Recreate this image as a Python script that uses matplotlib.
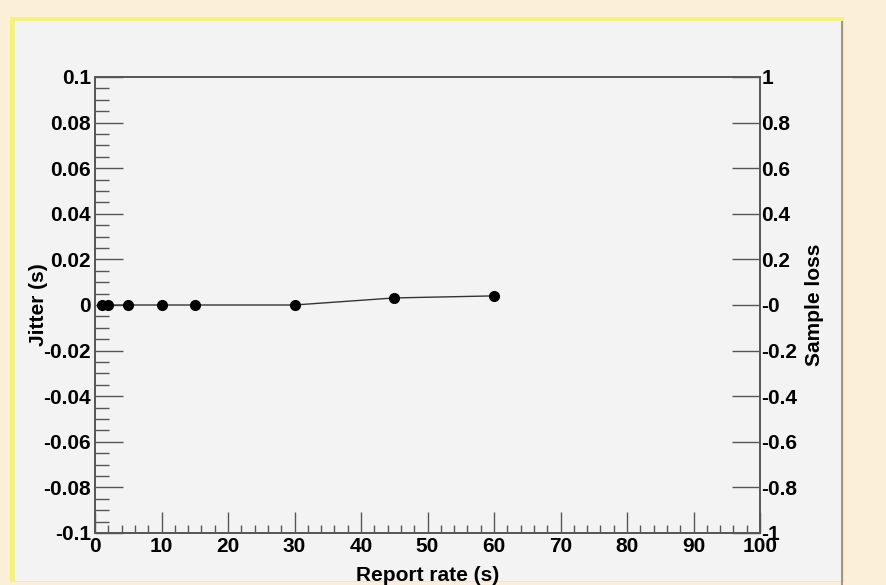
import numpy as np
import matplotlib.pyplot as plt
from matplotlib.patches import Rectangle
from matplotlib.ticker import MultipleLocator, FixedLocator, FixedFormatter

# data
report_rate = [1, 2, 5, 10, 15, 30, 45, 60]
jitter = [0.0, 0.0, 0.0, 0.0, 0.0, 0.0, 0.0031, 0.0040]

left_ticks = [-0.1, -0.08, -0.06, -0.04, -0.02, 0, 0.02, 0.04, 0.06, 0.08, 0.1]
left_labels = ['-0.1', '-0.08', '-0.06', '-0.04', '-0.02', '0',
               '0.02', '0.04', '0.06', '0.08', '0.1']
right_ticks = [-1, -0.8, -0.6, -0.4, -0.2, 0, 0.2, 0.4, 0.6, 0.8, 1]
right_labels = ['-1', '-0.8', '-0.6', '-0.4', '-0.2', '-0',
                '0.2', '0.4', '0.6', '0.8', '1']
x_ticks = [0, 10, 20, 30, 40, 50, 60, 70, 80, 90, 100]

plt.rcParams['font.family'] = ['Liberation Sans', 'DejaVu Sans']
plt.rcParams['font.weight'] = 'bold'

W, H = 886, 585
fs = 15
fig = plt.figure(figsize=(W / 100, H / 100), dpi=100)
fig.patch.set_facecolor('#fcefda')

# ROOT style canvas pad: gray panel with yellow edges
for (x0, y0, w, h, c) in [(10, 17, 834, 565, '#f5f17e'),
                          (15, 21, 826, 560, '#f3f3f3'),
                          (841, 21, 2, 564, '#9a9a7a')]:
    fig.add_artist(Rectangle((x0 / W, 1 - (y0 + h) / H), w / W, h / H,
                             transform=fig.transFigure, facecolor=c,
                             edgecolor='none', zorder=-5))

ax = fig.add_axes([95 / W, 1 - 533 / H, 665 / W, 456 / H])
ax.set_facecolor('#f3f3f3')
ax.plot(report_rate, jitter, color='#333333', lw=1.0, marker='o',
        ms=7, mfc='black', mec='black', zorder=3)

ax.set_xlim(0, 100)
ax.set_ylim(-0.1, 0.1)
for s in ax.spines.values():
    s.set_color('#555555')
    s.set_linewidth(1.2)

ax.xaxis.set_major_locator(FixedLocator(x_ticks))
ax.xaxis.set_minor_locator(MultipleLocator(2))
ax.yaxis.set_major_locator(FixedLocator(left_ticks))
ax.yaxis.set_major_formatter(FixedFormatter(left_labels))
ax.yaxis.set_minor_locator(MultipleLocator(0.005))

ax.tick_params(axis='x', which='major', direction='in', length=15, width=1,
               color='#555555', labelsize=fs, pad=3, top=False)
ax.tick_params(axis='x', which='minor', direction='in', length=6, width=1,
               color='#555555', top=False)
ax.tick_params(axis='y', which='major', direction='in', length=20, width=1,
               color='#555555', labelsize=fs, pad=3, right=False)
ax.tick_params(axis='y', which='minor', direction='in', length=10, width=1,
               color='#555555', right=False)

ax.set_xlabel('Report rate (s)', fontsize=fs, fontweight='bold')
ax.xaxis.set_label_coords(0.5, -0.072)
ax.set_ylabel('Jitter (s)', fontsize=fs, fontweight='bold')
ax.yaxis.set_label_coords(-0.071, 0.5)

ax2 = ax.twinx()
ax2.set_ylim(-1, 1)
ax2.yaxis.set_major_locator(FixedLocator(right_ticks))
ax2.yaxis.set_major_formatter(FixedFormatter(right_labels))
ax2.tick_params(axis='y', which='major', direction='in', length=20, width=1,
                color='#555555', labelsize=fs, pad=1)
ax2.set_ylabel('Sample loss', fontsize=fs, fontweight='bold')
ax2.yaxis.set_label_coords(1.068, 0.5)
for s in ax2.spines.values():
    s.set_color('#555555')
    s.set_linewidth(1.2)

fig.savefig('out.png', dpi=100, facecolor=fig.get_facecolor())
